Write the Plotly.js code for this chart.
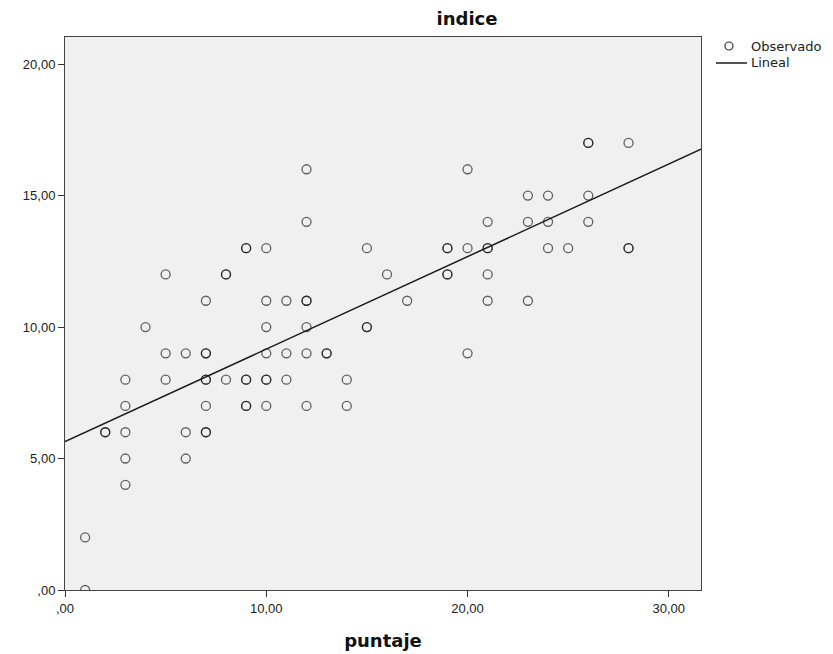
<!DOCTYPE html>
<html>
<head>
<meta charset="utf-8">
<script src="https://cdn.plot.ly/plotly-3.0.1.min.js"></script>
<style>html,body{margin:0;padding:0;background:#fff;}#chart{width:833px;height:654px;}</style>
</head>
<body>
<div id="chart"></div>
<script>
// Observed points (puntaje, indice); repeated pairs mark overlapping observations
const puntaje = [1,1, 2,2, 3,3,3,3,3, 4, 5,5,5, 6,6,6,
  7,7,7,7,7,7,7,7, 8,8,8, 9,9,9,9,9,9,
  10,10,10,10,10,10,10, 11,11,11, 12,12,12,12,12,12,12,
  13,13, 14,14, 15,15,15, 16, 17, 19,19,19,19, 20,20,20,
  21,21,21,21,21, 23,23,23, 24,24,24, 25, 26,26,26,26, 28,28,28];
const indice = [2,0, 6,6, 8,7,6,5,4, 10, 12,9,8, 9,6,5,
  11,9,9,8,8,7,6,6, 12,12,8, 13,13,8,8,7,7,
  13,11,10,9,8,8,7, 11,9,8, 16,14,11,11,10,9,7,
  9,9, 8,7, 13,10,10, 12, 11, 13,13,12,12, 16,13,9,
  14,13,13,12,11, 15,14,11, 15,14,13, 13, 17,17,15,14, 17,13,13];
// Linear fit line
const lineX = [0, 31.6];
const lineY = [5.64, 16.76];
const xTickVals = [0, 10, 20, 30];
const xTickText = [',00', '10,00', '20,00', '30,00'];
const yTickVals = [0, 5, 10, 15, 20];
const yTickText = [',00', '5,00', '10,00', '15,00', '20,00'];
const seriesNames = ['Observado', 'Lineal'];

const markerColor = 'rgba(0,0,0,0.6)';
const traces = [
  {x: puntaje, y: indice, type: 'scatter', mode: 'markers', name: seriesNames[0], cliponaxis: true,
   marker: {symbol: 'circle-open', size: 9, color: markerColor, line: {width: 1.3, color: markerColor}}},
  {x: lineX, y: lineY, type: 'scatter', mode: 'lines', name: seriesNames[1],
   line: {color: '#1a1a1a', width: 1.5}}
];

// Custom legend (paper coordinates, outside the plot on the right)
const legX0 = 1.044, legY0 = 0.9837, legY1 = 0.953;
const legendShapes = [
  {type: 'circle', xref: 'paper', yref: 'paper', xsizemode: 'pixel', ysizemode: 'pixel',
   xanchor: legX0, yanchor: legY0, x0: -4, x1: 4, y0: -4, y1: 4,
   line: {color: '#333', width: 1.2}, fillcolor: 'rgba(0,0,0,0)'},
  {type: 'line', xref: 'paper', yref: 'paper', x0: 1.0236, x1: 1.0723, y0: legY1, y1: legY1,
   line: {color: '#1a1a1a', width: 1.5}}
];
const legendAnn = [
  {text: seriesNames[0], xref: 'paper', yref: 'paper', x: 1.0755, y: legY0, xanchor: 'left', yanchor: 'middle',
   showarrow: false, font: {family: 'DejaVu Sans, sans-serif', size: 13, color: '#222'}},
  {text: seriesNames[1], xref: 'paper', yref: 'paper', x: 1.0755, y: legY1, xanchor: 'left', yanchor: 'middle',
   showarrow: false, font: {family: 'DejaVu Sans, sans-serif', size: 13, color: '#222'}}
];

const layout = {
  width: 833, height: 654,
  margin: {l: 65, r: 132, t: 37, b: 64},
  paper_bgcolor: '#ffffff',
  plot_bgcolor: '#f0f0f0',
  font: {family: 'Liberation Sans, Arial, sans-serif', size: 13, color: '#222'},
  title: {text: '<b>indice</b>', x: 0.5606, xanchor: 'center', yref: 'container', y: 0.971, yanchor: 'middle',
          font: {family: 'DejaVu Sans, sans-serif', size: 18, color: '#111'}},
  xaxis: {range: [0, 31.6], tickvals: xTickVals, ticktext: xTickText,
          ticks: 'outside', ticklen: 6, tickcolor: '#333', showgrid: false, zeroline: false,
          showline: true, linecolor: '#444', linewidth: 1, mirror: true,
          title: {text: '<b>puntaje</b>', standoff: 19, font: {family: 'DejaVu Sans, sans-serif', size: 18, color: '#111'}}},
  yaxis: {range: [0, 21.03], tickvals: yTickVals, ticktext: yTickText,
          ticks: 'outside', ticklen: 6, tickcolor: '#333', showgrid: false, zeroline: false,
          showline: true, linecolor: '#444', linewidth: 1, mirror: true},
  showlegend: false,
  shapes: legendShapes,
  annotations: legendAnn
};

Plotly.newPlot('chart', traces, layout, {displayModeBar: false});
</script>
</body>
</html>
